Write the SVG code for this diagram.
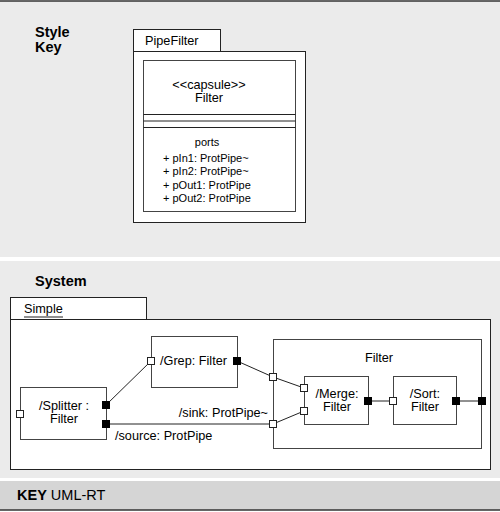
<svg xmlns="http://www.w3.org/2000/svg" width="500" height="512" viewBox="0 0 500 512">
<style>
text{font-family:"Liberation Sans",Arial,sans-serif;fill:#000}
.b{font-weight:bold;font-size:14.5px}
.t{font-size:12.7px}
.s{font-size:11px}
.box{fill:#fff;stroke:#222;stroke-width:1}
.ib{fill:#fff;stroke:#444;stroke-width:1}
.wp{fill:#fff;stroke:#222;stroke-width:1}
.bp{fill:#000;stroke:#000;stroke-width:1}
.c{stroke:#222;stroke-width:1;fill:none}
</style>
<rect x="0" y="0" width="500" height="512" fill="#fff"/>
<rect x="0" y="1" width="500" height="256" fill="#ebebeb"/>
<line x1="0" y1="1" x2="500" y2="1" stroke="#333" stroke-width="1.5"/>
<rect x="0" y="261" width="500" height="217" fill="#ebebeb"/>
<rect x="0" y="481" width="500" height="29" fill="#d5d5d5"/>
<line x1="0" y1="510" x2="500" y2="510" stroke="#333" stroke-width="1.5"/>

<text class="b" x="35" y="37">Style</text>
<text class="b" x="35" y="52">Key</text>

<g id="pipefilter">
<rect class="box" x="133.5" y="29.5" width="87" height="22"/>
<text class="t" x="145" y="45">PipeFilter</text>
<rect class="box" x="133.5" y="51.5" width="172" height="171"/>
<rect class="ib" x="143.5" y="60.5" width="152" height="151"/>
<line class="c" x1="143.5" y1="114.5" x2="295.5" y2="114.5" stroke="#444"/>
<line class="c" x1="143.5" y1="121" x2="295.5" y2="121" stroke="#444"/>
<line class="c" x1="143.5" y1="127.5" x2="295.5" y2="127.5" stroke="#444"/>
<text class="t" x="209" y="89" text-anchor="middle">&lt;&lt;capsule&gt;&gt;</text>
<text class="t" x="209" y="102" text-anchor="middle">Filter</text>
<text class="s" x="207" y="146" text-anchor="middle">ports</text>
<text class="s" x="163" y="162">+ pIn1: ProtPipe~</text>
<text class="s" x="163" y="175">+ pIn2: ProtPipe~</text>
<text class="s" x="163" y="188.5">+ pOut1: ProtPipe</text>
<text class="s" x="163" y="202">+ pOut2: ProtPipe</text>
</g>

<text class="b" x="35" y="286">System</text>

<g id="simple">
<rect class="box" x="10.5" y="297.5" width="136" height="22"/>
<text class="t" x="24" y="313">Simple</text>
<line x1="24" y1="317" x2="63" y2="317" stroke="#222" stroke-width="1"/>
<rect class="box" x="10.5" y="319.5" width="480" height="150"/>
</g>

<g id="filter-composite">
<rect class="ib" x="273.5" y="339.5" width="208" height="109"/>
<text class="t" x="379" y="362" text-anchor="middle">Filter</text>
</g>

<g id="connectors">
<line class="c" x1="106" y1="405" x2="151" y2="361"/>
<line class="c" x1="106" y1="424" x2="273" y2="424"/>
<line class="c" x1="237" y1="361" x2="273" y2="377"/>
<line class="c" x1="273" y1="377" x2="304" y2="388"/>
<line class="c" x1="273" y1="424" x2="304" y2="411"/>
<line class="c" x1="368" y1="401" x2="393" y2="401"/>
<line class="c" x1="456" y1="401" x2="482" y2="401"/>
<text class="t" x="268" y="417" text-anchor="end">/sink: ProtPipe~</text>
<text class="t" x="115" y="440">/source: ProtPipe</text>
</g>

<g id="splitter">
<rect class="ib" x="20.5" y="387.5" width="86" height="52"/>
<text class="t" x="64" y="410" text-anchor="middle">/Splitter :</text>
<text class="t" x="64" y="423" text-anchor="middle">Filter</text>
<rect class="wp" x="16.5" y="410.5" width="7" height="7"/>
<rect class="bp" x="102.5" y="401.5" width="7" height="7"/>
<rect class="bp" x="102.5" y="420.5" width="7" height="7"/>
</g>

<g id="grep">
<rect class="ib" x="151.5" y="336.5" width="86" height="51"/>
<text class="t" x="160" y="365">/Grep: Filter</text>
<rect class="wp" x="147.5" y="357.5" width="7" height="7"/>
<rect class="bp" x="233.5" y="357.5" width="7" height="7"/>
</g>

<g id="filter-ports">
<rect class="wp" x="269.5" y="373.5" width="7" height="7"/>
<rect class="wp" x="269.5" y="420.5" width="7" height="7"/>
<rect class="bp" x="478.5" y="397.5" width="7" height="7"/>
</g>

<g id="merge">
<rect class="ib" x="304.5" y="376.5" width="64" height="48"/>
<text class="t" x="337" y="398" text-anchor="middle">/Merge:</text>
<text class="t" x="337" y="411" text-anchor="middle">Filter</text>
<rect class="wp" x="300.5" y="384.5" width="7" height="7"/>
<rect class="wp" x="300.5" y="407.5" width="7" height="7"/>
<rect class="bp" x="364.5" y="397.5" width="7" height="7"/>
</g>

<g id="sort">
<rect class="ib" x="393.5" y="376.5" width="63" height="48"/>
<text class="t" x="425" y="398" text-anchor="middle">/Sort:</text>
<text class="t" x="425" y="411" text-anchor="middle">Filter</text>
<rect class="wp" x="389.5" y="397.5" width="7" height="7"/>
<rect class="bp" x="452.5" y="397.5" width="7" height="7"/>
</g>

<text x="17" y="500" style="font-size:14.5px"><tspan font-weight="bold">KEY</tspan> UML-RT</text>
</svg>
